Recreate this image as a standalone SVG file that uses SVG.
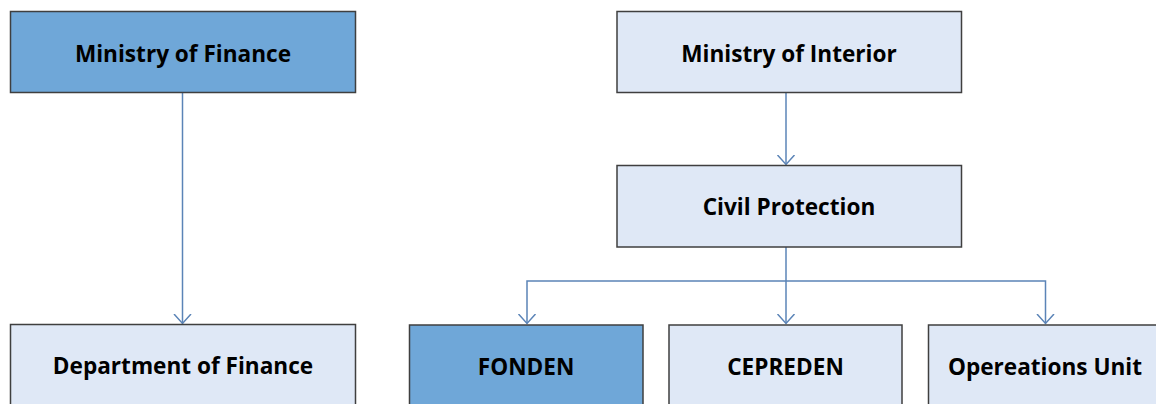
<svg xmlns="http://www.w3.org/2000/svg" width="1156" height="404" viewBox="0 0 1156 404">
<style>
.box{stroke:#3f3f3f;stroke-width:1.5}
.dark{fill:#6fa7d8}
.light{fill:#dfe8f6}
.lbl{font-family:"Open Sans","Noto Sans","Liberation Sans",sans-serif;font-weight:bold;font-size:22.6px;fill:#000;text-anchor:middle}
.conn{fill:none;stroke:#5b84b7;stroke-width:1.5}
</style>
<defs>
<marker id="arr" markerUnits="userSpaceOnUse" markerWidth="20" markerHeight="20" refX="10" refY="10" orient="auto" viewBox="0 0 20 20">
<path d="M0.5,1.5 L10,10 L0.5,18.5" fill="none" stroke="#5b84b7" stroke-width="1.5"/>
</marker>
</defs>
<rect width="1156" height="404" fill="#fff"/>
<g id="connectors">
<path class="conn" d="M182.5,93 V323.5" marker-end="url(#arr)"/>
<path class="conn" d="M786,93 V164.5" marker-end="url(#arr)"/>
<path class="conn" d="M786,247 V323.5" marker-end="url(#arr)"/>
<path class="conn" d="M786,281 H527 V323.5" marker-end="url(#arr)"/>
<path class="conn" d="M786,281 H1045.5 V323.5" marker-end="url(#arr)"/>
</g>
<g id="ministry-finance">
<rect class="box dark" x="10.5" y="11.5" width="345" height="81"/>
<text class="lbl" x="183" y="62">Ministry of Finance</text>
</g>
<g id="department-finance">
<rect class="box light" x="10.5" y="324.5" width="345" height="100"/>
<text class="lbl" x="183" y="374">Department of Finance</text>
</g>
<g id="ministry-interior">
<rect class="box light" x="617" y="11.5" width="344.5" height="81"/>
<text class="lbl" x="789" y="62">Ministry of Interior</text>
</g>
<g id="civil-protection">
<rect class="box light" x="617" y="165.5" width="344.5" height="81.5"/>
<text class="lbl" x="789" y="215">Civil Protection</text>
</g>
<g id="fonden">
<rect class="box dark" x="409.5" y="325" width="233.5" height="100"/>
<text class="lbl" x="526" y="375">FONDEN</text>
</g>
<g id="cepreden">
<rect class="box light" x="669" y="325" width="233" height="100"/>
<text class="lbl" x="785.5" y="375">CEPREDEN</text>
</g>
<g id="operations-unit">
<rect class="box light" x="928.5" y="325" width="240" height="100"/>
<text class="lbl" x="1045" y="375">Opereations Unit</text>
</g>
</svg>
